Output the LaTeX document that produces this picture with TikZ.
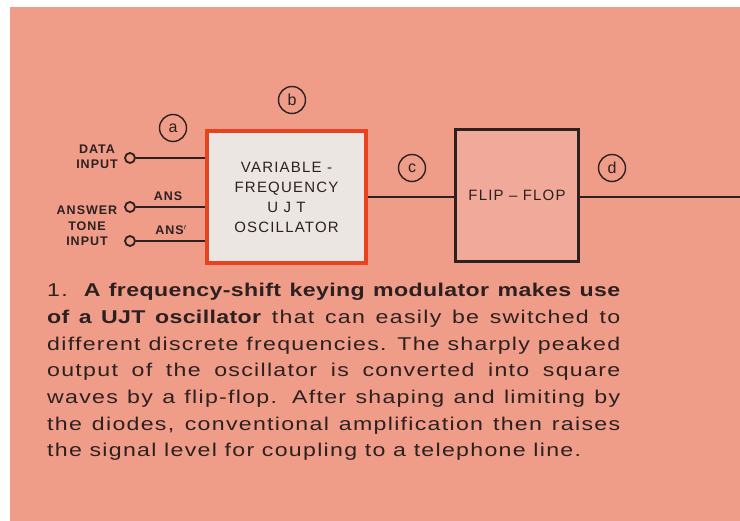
\documentclass[tikz,border=0pt]{standalone}
\usepackage{fontspec}
\setmainfont{Liberation Sans}
\usetikzlibrary{positioning}
\definecolor{salmon}{RGB}{239,157,137}
\definecolor{ink}{RGB}{45,32,32}
\definecolor{oscline}{RGB}{232,66,30}
\definecolor{oscfill}{RGB}{236,230,226}
\definecolor{fffill}{RGB}{241,170,153}
\newcommand{\capline}[1]{\makebox[573pt][s]{#1}}
\newcommand{\capbold}[1]{{\bfseries\addfontfeature{LetterSpace=2}#1}}
\newcommand{\spaced}{\addfontfeature{LetterSpace=8}}
\newcommand{\capspaced}{\addfontfeatures{FakeStretch=1.25,LetterSpace=7}}

\begin{document}
\begin{tikzpicture}[x=1pt, y=-1pt,
    wire/.style={draw=ink, line width=1.8pt},
    tag/.style={circle, draw=ink, line width=1.4pt, minimum size=27pt, inner sep=0pt, text=ink, font=\fontsize{16}{16}\selectfont},
    jack/.style={circle, draw=ink, line width=1.8pt, fill=salmon, minimum size=10pt, inner sep=0pt},
    lbl/.style={text=ink, align=center, inner sep=0pt, font=\fontsize{12.5}{15.5}\selectfont\bfseries\spaced},
    blocktext/.style={text=ink, align=center, font=\fontsize{15}{20}\selectfont\spaced}]
    % paper and tinted panel
    \fill[white] (0,0) rectangle (740,521);
    \fill[salmon] (10,7) rectangle (740,521);
    \useasboundingbox (0,0) rectangle (740,521);
    % blocks
    \node[draw=oscline, line width=4pt, fill=oscfill, minimum width=159pt, minimum height=132pt, blocktext] (osc) at (286.5,197) {VARIABLE -\\FREQUENCY\\U J T\\OSCILLATOR};
    \node[draw=ink, line width=3pt, fill=fffill, minimum width=123pt, minimum height=132pt, blocktext] (ff) at (517,195.5) {FLIP -- FLOP};
    \coordinate (out) at (740,197);
    % inputs
    \node[jack] (data) at (130,158) {};
    \node[jack] (ans) at (130,207) {};
    \node[jack] (ansb) at (130,241) {};
    \draw[wire] (data) -- (data -| osc.west);
    \draw[wire] (ans) -- (ans -| osc.west);
    \draw[wire] (ansb) -- (ansb -| osc.west);
    \draw[wire] (osc.east) -- (osc.east -| ff.west);
    \draw[wire] (ff.east |- out) -- (out);
    \node[lbl] (datalbl) at (97,157) {DATA\\INPUT};
    \node[lbl] (tonelbl) at (87,226) {ANSWER\\TONE\\INPUT};
    \node[lbl] (anstag) at (168,196) {ANS};
    \node[lbl] (ansbtag) at (171,230) {ANS$^{\prime}$};
    % test points
    \node[tag] (ta) at (173,128) {a};
    \node[tag] (tb) at (292,100) {b};
    \node[tag] (tc) at (412,168) {c};
    \node[tag] (td) at (612,168) {d};
    % caption
    \node[anchor=north west, inner sep=0pt, align=left, text=ink, font=\fontsize{18.5}{26.7}\selectfont\capspaced] (caption) at (47,283) {%
        \capline{1. \capbold{A frequency-shift keying modulator makes use}}\\
        \capline{\capbold{of a UJT oscillator} that can easily be switched to}\\
        \capline{different discrete frequencies. The sharply peaked}\\
        \capline{output of the oscillator is converted into square}\\
        \capline{waves by a flip-flop. After shaping and limiting by}\\
        \capline{the diodes, conventional amplification then raises}\\
        the signal level for coupling to a telephone line.};
\end{tikzpicture}
\end{document}
